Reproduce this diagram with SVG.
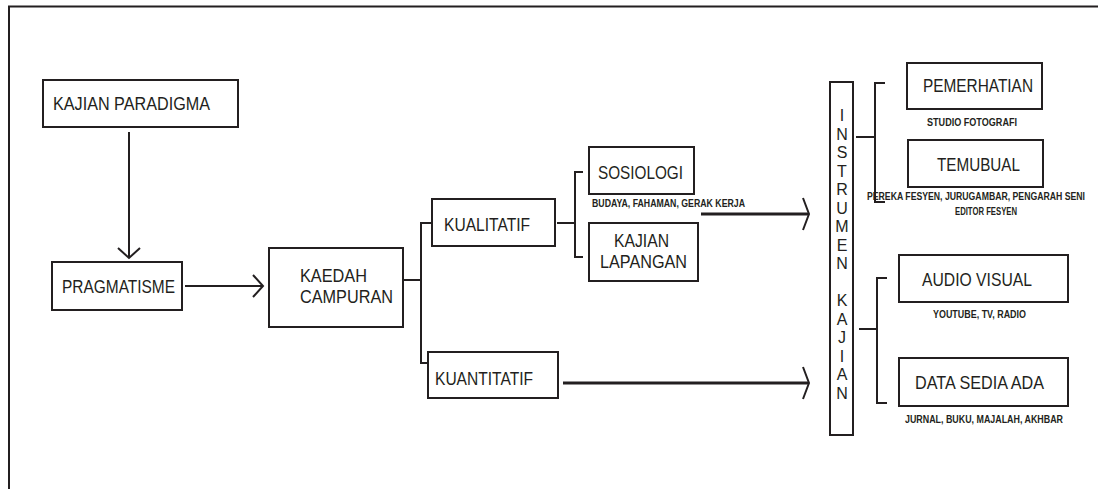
<svg xmlns="http://www.w3.org/2000/svg" width="1098" height="489" viewBox="0 0 1098 489">
<style>
.box{fill:#fff;stroke:#231f20;stroke-width:2}
.t{font-family:"Liberation Sans",Arial,sans-serif;font-size:18.5px;fill:#231f20}
.s{font-family:"Liberation Sans",Arial,sans-serif;font-size:10.5px;font-weight:bold;fill:#231f20}
.v{font-family:"Liberation Sans",Arial,sans-serif;font-size:16px;fill:#231f20;text-anchor:middle}
.ln{fill:none;stroke:#231f20;stroke-width:2}
.thick{fill:none;stroke:#231f20;stroke-width:3}
</style>
<defs>
<marker id="chev1" markerUnits="userSpaceOnUse" markerWidth="30" markerHeight="30" viewBox="-15 -15 30 30" refX="0" refY="0" orient="auto">
<path d="M-10,-11 L0,0 L-10,11" fill="none" stroke="#231f20" stroke-width="2"/>
</marker>
<marker id="chev2" markerUnits="userSpaceOnUse" markerWidth="40" markerHeight="40" viewBox="-20 -20 40 40" refX="0" refY="0" orient="auto">
<path d="M-6,-16 L0,0 L-6,16" fill="none" stroke="#231f20" stroke-width="2"/>
</marker>
</defs>
<rect width="1098" height="489" fill="#fff"/>
<path d="M9,489 V6.5 H1098" fill="none" stroke="#231f20" stroke-width="2"/>

<g id="connectors">
<path class="ln" d="M129,132 V258" marker-end="url(#chev1)"/>
<path class="ln" d="M185,286 H263" marker-end="url(#chev1)"/>
<path class="ln" d="M404,280 H421"/>
<path class="ln" d="M432,223 H421 V363 H428"/>
<path class="ln" d="M557,223 H575"/>
<path class="ln" d="M583,172 H575 V257 H583"/>
<path class="thick" d="M701,214 H809" marker-end="url(#chev2)"/>
<path class="thick" d="M563,383 H809" marker-end="url(#chev2)"/>
<path class="ln" d="M856,137 H875"/>
<path class="ln" d="M885,83 H875 V202 H885"/>
<path class="ln" d="M859,329 H877"/>
<path class="ln" d="M887,278 H877 V403 H887"/>
</g>

<g id="kajian-paradigma">
<rect class="box" x="43" y="80" width="195" height="47"/>
<text class="t" x="53" y="110" textLength="157" lengthAdjust="spacingAndGlyphs">KAJIAN PARADIGMA</text>
</g>
<g id="pragmatisme">
<rect class="box" x="52" y="262" width="130" height="48"/>
<text class="t" x="62" y="293" textLength="113" lengthAdjust="spacingAndGlyphs">PRAGMATISME</text>
</g>
<g id="kaedah-campuran">
<rect class="box" x="269" y="248" width="134" height="79"/>
<text class="t" x="300" y="282" textLength="67" lengthAdjust="spacingAndGlyphs">KAEDAH</text>
<text class="t" x="300" y="303" textLength="93" lengthAdjust="spacingAndGlyphs">CAMPURAN</text>
</g>
<g id="kualitatif">
<rect class="box" x="432" y="199" width="123" height="47"/>
<text class="t" x="444" y="231" textLength="86" lengthAdjust="spacingAndGlyphs">KUALITATIF</text>
</g>
<g id="kuantitatif">
<rect class="box" x="428" y="352" width="130" height="46"/>
<text class="t" x="435" y="385" textLength="98" lengthAdjust="spacingAndGlyphs">KUANTITATIF</text>
</g>
<g id="sosiologi">
<rect class="box" x="589" y="147" width="105" height="47"/>
<text class="t" x="598" y="179" textLength="85" lengthAdjust="spacingAndGlyphs">SOSIOLOGI</text>
<text class="s" x="592" y="207" textLength="153" lengthAdjust="spacingAndGlyphs">BUDAYA, FAHAMAN, GERAK KERJA</text>
</g>
<g id="kajian-lapangan">
<rect class="box" x="589" y="223" width="109" height="58"/>
<text class="t" x="614" y="247" textLength="55" lengthAdjust="spacingAndGlyphs">KAJIAN</text>
<text class="t" x="600" y="268" textLength="87" lengthAdjust="spacingAndGlyphs">LAPANGAN</text>
</g>
<g id="instrumen-kajian">
<rect class="box" x="830" y="82" width="23" height="353"/>
<text class="v" x="842" y="121">I</text>
<text class="v" x="842" y="139.5">N</text>
<text class="v" x="842" y="158">S</text>
<text class="v" x="842" y="176.5">T</text>
<text class="v" x="842" y="195">R</text>
<text class="v" x="842" y="213.5">U</text>
<text class="v" x="842" y="232">M</text>
<text class="v" x="842" y="250.5">E</text>
<text class="v" x="842" y="269">N</text>
<text class="v" x="842" y="306">K</text>
<text class="v" x="842" y="324.5">A</text>
<text class="v" x="842" y="343">J</text>
<text class="v" x="842" y="361.5">I</text>
<text class="v" x="842" y="380">A</text>
<text class="v" x="842" y="398.5">N</text>
</g>
<g id="pemerhatian">
<rect class="box" x="907" y="63" width="135" height="46"/>
<text class="t" x="923" y="92" textLength="110" lengthAdjust="spacingAndGlyphs">PEMERHATIAN</text>
<text class="s" x="927" y="126" textLength="90" lengthAdjust="spacingAndGlyphs">STUDIO FOTOGRAFI</text>
</g>
<g id="temubual">
<rect class="box" x="908" y="140" width="135" height="47"/>
<text class="t" x="937" y="171" textLength="83" lengthAdjust="spacingAndGlyphs">TEMUBUAL</text>
<text class="s" x="867" y="200" textLength="218" lengthAdjust="spacingAndGlyphs">PEREKA FESYEN, JURUGAMBAR, PENGARAH SENI</text>
<text class="s" x="955" y="215" textLength="62" lengthAdjust="spacingAndGlyphs">EDITOR FESYEN</text>
</g>
<g id="audio-visual">
<rect class="box" x="899" y="255" width="169" height="47"/>
<text class="t" x="922" y="286" textLength="110" lengthAdjust="spacingAndGlyphs">AUDIO VISUAL</text>
<text class="s" x="933" y="318" textLength="93" lengthAdjust="spacingAndGlyphs">YOUTUBE, TV, RADIO</text>
</g>
<g id="data-sedia-ada">
<rect class="box" x="899" y="358" width="169" height="48"/>
<text class="t" x="915" y="389" textLength="129" lengthAdjust="spacingAndGlyphs">DATA SEDIA ADA</text>
<text class="s" x="905" y="423" textLength="158" lengthAdjust="spacingAndGlyphs">JURNAL, BUKU, MAJALAH, AKHBAR</text>
</g>
</svg>
